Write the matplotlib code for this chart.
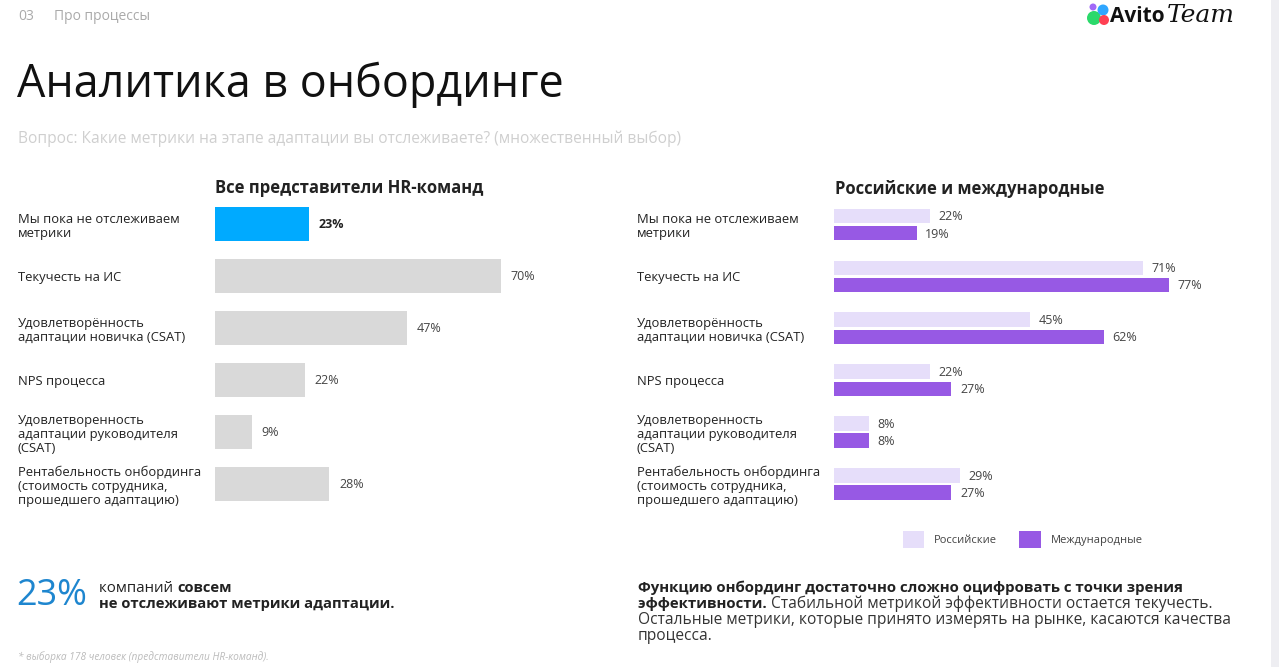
import matplotlib
matplotlib.use("Agg")
import matplotlib.pyplot as plt
import numpy as np
from matplotlib.patches import Circle, Rectangle

plt.rcParams['font.family'] = ['Open Sans', 'DejaVu Sans']

categories = [
    "Мы пока не отслеживаем\nметрики",
    "Текучесть на ИС",
    "Удовлетворённость\nадаптации новичка (CSAT)",
    "NPS процесса",
    "Удовлетворенность\nадаптации руководителя\n(CSAT)",
    "Рентабельность онбординга\n(стоимость сотрудника,\nпрошедшего адаптацию)",
]
all_hr = [23, 70, 47, 22, 9, 28]
russian = [22, 71, 45, 22, 8, 29]
international = [19, 77, 62, 27, 8, 27]

BLUE = "#00AAFF"
GRAY = "#D9D9D9"
LIGHT = "#E6DEFA"
PURPLE = "#9759E4"
TXT = "#222222"

W, H = 1279, 667
fig = plt.figure(figsize=(W / 100, H / 100), dpi=100)
fig.patch.set_facecolor("white")

# overlay in pixel coords for the slide texts
bg = fig.add_axes([0, 0, 1, 1])
bg.set_xlim(0, W)
bg.set_ylim(H, 0)
bg.axis("off")

def frac_box(x0, x1, y_top, y_bot):
    return [x0 / W, (H - y_bot) / H, (x1 - x0) / W, (y_bot - y_top) / H]

y = np.arange(len(categories))
y_top, y_bot = 198.5, 510.0

# left chart
ax1 = fig.add_axes(frac_box(215, 215 + 408.6, y_top, y_bot))
colors = [BLUE] + [GRAY] * (len(all_hr) - 1)
ax1.barh(y, all_hr, height=0.655, color=colors)
ax1.set_xlim(0, 100)
ax1.set_ylim(5.5, -0.5)
for i, v in enumerate(all_hr):
    ax1.text(v + 2.4, i, f"{v}%", va="center", ha="left", fontsize=9,
             color=TXT if i == 0 else "#444444",
             fontweight="bold" if i == 0 else "normal")

# right chart
ax2 = fig.add_axes(frac_box(834, 834 + 435, y_top, y_bot))
off = 0.165
b1 = ax2.barh(y - off, russian, height=0.28, color=LIGHT, label="Российские")
b2 = ax2.barh(y + off, international, height=0.28, color=PURPLE, label="Международные")
ax2.set_xlim(0, 100)
ax2.set_ylim(5.5, -0.5)
for i in range(len(categories)):
    ax2.text(russian[i] + 2.0, i - off + 0.02, f"{russian[i]}%", va="center",
             ha="left", fontsize=9, color="#444444")
    ax2.text(international[i] + 2.0, i + off + 0.02, f"{international[i]}%",
             va="center", ha="left", fontsize=9, color="#444444")

for ax in (ax1, ax2):
    for s in ax.spines.values():
        s.set_visible(False)
    ax.set_xticks([])
    ax.set_yticks(y)
    ax.set_yticklabels(categories, ha="left", fontsize=9.4, color=TXT,
                       linespacing=1.12, fontweight="medium")
    ax.tick_params(axis="y", length=0, pad=142)
    ax.patch.set_alpha(0)

ax2.legend(handles=[b1, b2], loc="upper left", bbox_to_anchor=(0.136, -0.035),
           ncol=2, frameon=False, fontsize=8, handlelength=1.9,
           handleheight=2.0, columnspacing=2.0, handletextpad=0.9,
           labelcolor="#444444")

# chart titles
bg.text(215, 188, "Все представители HR-команд", fontsize=12,
        fontweight="bold", color=TXT, va="center")
bg.text(835, 189, "Российские и международные", fontsize=12,
        fontweight="bold", color=TXT, va="center")

# header
bg.text(18, 16, "03", fontsize=10, color="#AAAAAA", va="center")
bg.text(54, 16, "Про процессы", fontsize=10, color="#AAAAAA", va="center")
bg.text(17, 85, "Аналитика в онбординге", fontsize=32.3, color="#111111",
        va="center")
bg.text(18, 139, "Вопрос: Какие метрики на этапе адаптации вы отслеживаете? "
        "(множественный выбор)", fontsize=11.2, color="#CFCFCF", va="center")

# logo
for (cx, cy, r, c) in [(1094, 18, 7, "#2BD96B"), (1103, 10, 5.5, "#2FA6FF"),
                       (1093, 7, 3.5, "#A169F7"), (1104, 20, 5, "#FF4053")]:
    bg.add_patch(Circle((cx, cy), r, color=c, lw=0))
bg.text(1110, 16, "Avito", fontsize=15, fontweight="bold", color="#111111",
        va="center")
bg.text(1167, 16, "Team", fontsize=18, style="italic", color="#111111",
        va="center", family="DejaVu Serif")

# right edge strip
bg.add_patch(Rectangle((1271, 0), 8, H, color="#EEEEF2", lw=0))

# bottom-left summary
bg.text(16, 596, "23%", fontsize=26, color="#1E86CF", va="center")
t1 = bg.text(99, 588, "компаний ", fontsize=10.8, color=TXT, va="center")
bg.annotate("совсем", xy=(1, 0.5), xycoords=t1, va="center", ha="left",
            fontsize=10.6, fontweight="bold", color=TXT)
bg.text(99, 604, "не отслеживают метрики адаптации.", fontsize=10.6,
        fontweight="bold", color=TXT, va="center")

# bottom-right note
bg.text(638, 588, "Функцию онбординг достаточно сложно оцифровать с точки зрения",
        fontsize=10.8, fontweight="bold", color=TXT, va="center")
t2 = bg.text(638, 604, "эффективности. ", fontsize=10.8, fontweight="bold",
             color=TXT, va="center")
bg.annotate("Стабильной метрикой эффективности остается текучесть.",
            xy=(1, 0.5), xycoords=t2, va="center", ha="left", fontsize=11.2,
            color="#333333")
bg.text(638, 620, "Остальные метрики, которые принято измерять на рынке, "
        "касаются качества", fontsize=11.2, color="#333333", va="center")
bg.text(638, 636, "процесса.", fontsize=11.2, color="#333333", va="center")

bg.text(18, 657, "* выборка 178 человек (представители HR-команд).",
        fontsize=7.3, style="italic", color="#BBBBBB", va="center")

fig.savefig("out.png", dpi=100)
